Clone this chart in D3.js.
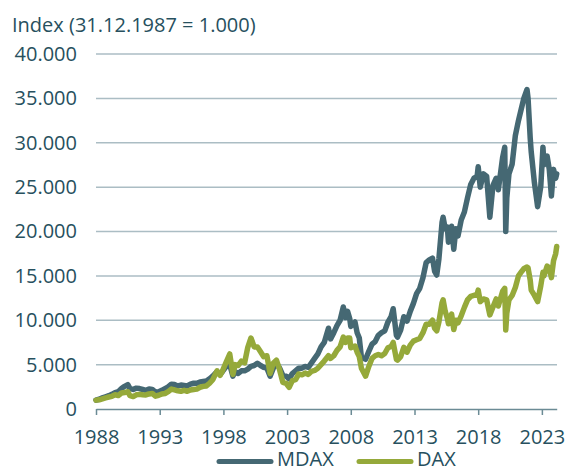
<!DOCTYPE html>
<html>
<head>
<meta charset="utf-8">
<script src="https://cdn.jsdelivr.net/npm/d3@7"></script>
<style>
  body { margin: 0; background: #fff; }
  text { font-family: "Open Sans", sans-serif; }
</style>
</head>
<body>
<div id="chart"></div>
<script>
// data (index, 31.12.1987 = 1.000)
var dates = [
  "1988-01", "1988-04", "1988-07", "1988-10",
  "1989-01", "1989-04", "1989-07", "1989-10",
  "1990-01", "1990-04", "1990-07", "1990-09", "1990-12",
  "1991-03", "1991-06", "1991-09", "1991-12",
  "1992-03", "1992-06", "1992-09", "1992-12",
  "1993-03", "1993-06", "1993-09", "1993-12",
  "1994-03", "1994-06", "1994-09", "1994-12",
  "1995-03", "1995-06", "1995-09", "1995-12",
  "1996-03", "1996-06", "1996-09", "1996-12",
  "1997-03", "1997-07", "1997-10", "1997-12",
  "1998-03", "1998-07", "1998-10", "1998-12",
  "1999-03", "1999-06", "1999-09", "1999-12",
  "2000-03", "2000-06", "2000-09", "2000-12",
  "2001-03", "2001-06", "2001-09", "2001-12",
  "2002-03", "2002-06", "2002-09", "2002-12",
  "2003-03", "2003-06", "2003-09", "2003-12",
  "2004-03", "2004-06", "2004-09", "2004-12",
  "2005-03", "2005-06", "2005-09", "2005-12",
  "2006-04", "2006-06", "2006-09", "2006-12",
  "2007-03", "2007-06", "2007-08", "2007-10", "2007-12",
  "2008-01", "2008-05", "2008-07", "2008-09", "2008-11",
  "2009-03", "2009-06", "2009-09", "2009-12",
  "2010-03", "2010-06", "2010-09", "2010-12",
  "2011-03", "2011-05", "2011-08", "2011-09", "2011-12",
  "2012-03", "2012-06", "2012-09", "2012-12",
  "2013-03", "2013-06", "2013-09", "2013-12",
  "2014-03", "2014-06", "2014-08", "2014-10", "2014-12",
  "2015-03", "2015-04", "2015-06", "2015-08", "2015-09", "2015-12",
  "2016-02", "2016-04", "2016-06", "2016-09", "2016-12",
  "2017-03", "2017-06", "2017-09", "2017-12",
  "2018-01", "2018-03", "2018-06", "2018-09", "2018-12",
  "2019-03", "2019-06", "2019-08", "2019-12",
  "2020-02", "2020-03", "2020-04", "2020-06", "2020-09", "2020-12",
  "2021-03", "2021-06", "2021-08", "2021-11", "2021-12",
  "2022-02", "2022-03", "2022-06", "2022-09", "2022-12",
  "2023-02", "2023-03", "2023-06", "2023-08", "2023-10", "2023-12",
  "2024-02", "2024-03"
];

var mdax = [
  1000, 1100, 1250, 1380,
  1500, 1650, 1850, 1950,
  2300, 2550, 2750, 2300, 2200,
  2350, 2300, 2200, 2100,
  2250, 2200, 1900, 1950,
  2100, 2300, 2500, 2800,
  2750, 2600, 2700, 2650,
  2600, 2800, 2900, 2900,
  3050, 3100, 3150, 3400,
  3700, 4200, 3900, 4200,
  4700, 5000, 3700, 4200,
  4000, 4300, 4300, 4500,
  4800, 4900, 5150, 4900,
  4700, 4600, 3700, 4600,
  5200, 4600, 3800, 3700,
  3400, 4000, 4300, 4600,
  4600, 4800, 4700, 5200,
  5700, 6200, 7000, 7500,
  9100, 7900, 8600, 9400,
  10000, 11500, 10300, 11000, 10200,
  9300, 9800, 8600, 8000, 5800,
  5600, 6500, 7300, 7600,
  8300, 8600, 8800, 9800,
  10400, 11300, 8300, 8100, 8900,
  10400, 9900, 11000, 11900,
  13000, 13600, 14800, 16500,
  16800, 17000, 15500, 15100, 16900,
  21000, 21600, 20300, 20500, 18800, 20600,
  18000, 20300, 19500, 21300, 22200,
  23800, 25300, 26000, 26200,
  27300, 25000, 26500, 26200, 21600,
  25200, 26000, 24700, 28300,
  29500, 20000, 23800, 26500, 27600, 30800,
  32500, 34000, 35000, 36000, 35000,
  30500, 29000, 25500, 22800, 25100,
  29500, 27500, 28500, 27000, 24000, 27000,
  26000, 26500
];

var dax = [
  1000, 1040, 1150, 1260,
  1350, 1430, 1600, 1520,
  1800, 1850, 1950, 1500, 1400,
  1600, 1650, 1600, 1580,
  1700, 1750, 1450, 1550,
  1700, 1750, 1950, 2250,
  2150, 2050, 2000, 2100,
  2000, 2150, 2200, 2250,
  2450, 2550, 2600, 2900,
  3300, 4300, 3800, 4250,
  5100, 6200, 3900, 5000,
  4900, 5400, 5200, 6950,
  8000, 7000, 7000, 6450,
  5900, 6000, 4000, 5150,
  5500, 4400, 3000, 2900,
  2450, 3200, 3300, 3950,
  3850, 4050, 3900, 4250,
  4350, 4600, 5000, 5400,
  6000, 5700, 6000, 6600,
  7000, 8100, 7500, 8000, 8000,
  6900, 7100, 6400, 5900, 4600,
  3700, 4800, 5700, 6000,
  6150, 6000, 6250, 6900,
  7050, 7500, 5600, 5500, 5900,
  6950, 6400, 7200, 7650,
  7800, 7950, 8600, 9550,
  9550, 10000, 9100, 8800, 9800,
  11950, 12300, 11000, 10200, 9600, 10700,
  8950, 10000, 9700, 10500, 11450,
  12300, 12700, 12800, 12900,
  13400, 12100, 12400, 12300, 10600,
  11500, 12400, 11600, 13250,
  13600, 8900, 10800, 12300, 12800, 13700,
  15000, 15500, 15800, 16000, 15900,
  14500, 13400, 12800, 12100, 13900,
  15400, 15000, 16100, 15900, 14800, 16700,
  17500, 18300
];

var yTicks = [0, 5000, 10000, 15000, 20000, 25000, 30000, 35000, 40000];
var xTickYears = [1988, 1993, 1998, 2003, 2008, 2013, 2018, 2023];
var seriesNames = ["MDAX", "DAX"];
var seriesColors = ["#456873", "#95a93a"];

// set up SVG
var svgWidth = 568;
var svgHeight = 468;
var textColor = "#27505e";

var svg = d3.select("#chart")
    .append("svg")
    .attr("width", svgWidth)
    .attr("height", svgHeight);

var parseDate = d3.timeParse("%Y-%m");
var de = d3.formatLocale({ decimal: ",", thousands: ".", grouping: [3], currency: ["", " €"] });
var fmt = de.format(",");

var x = d3.scaleTime()
    .domain([new Date(1988, 0, 1), new Date(2024, 2, 1)])
    .range([96, 556.7]);

var y = d3.scaleLinear()
    .domain([0, 40000])
    .range([409, 54]);

// title
svg.append("text")
    .attr("x", 12)
    .attr("y", 32)
    .attr("fill", textColor)
    .attr("font-size", 20)
    .text("Index (31.12.1987 = 1.000)");

// gridlines
svg.append("g")
    .selectAll("line")
    .data(yTicks.slice(1))
    .enter()
    .append("line")
    .attr("x1", 96)
    .attr("x2", 557)
    .attr("y1", d => y(d))
    .attr("y2", d => y(d))
    .attr("stroke", "#abbdc4")
    .attr("stroke-width", 1.5);

// y axis labels
var yAxis = svg.append("g")
    .attr("transform", "translate(96,0)")
    .call(d3.axisLeft(y).tickValues(yTicks).tickFormat(fmt).tickSize(0).tickPadding(19));
yAxis.select(".domain").remove();
yAxis.selectAll("text")
    .attr("fill", textColor)
    .attr("font-size", 20)
    .attr("font-family", "Open Sans, sans-serif");

// x axis
var xAxis = svg.append("g")
    .attr("transform", "translate(0,409)")
    .call(d3.axisBottom(x)
        .tickValues(xTickYears.map(d => new Date(d, 0, 1)))
        .tickFormat(d3.timeFormat("%Y"))
        .tickSize(6)
        .tickSizeOuter(0)
        .tickPadding(15));
xAxis.select(".domain").attr("stroke", "#6b8b95").attr("stroke-width", 1.5);
xAxis.selectAll(".tick line").attr("stroke", "#6b8b95").attr("stroke-width", 1.5);
xAxis.selectAll("text")
    .attr("fill", textColor)
    .attr("font-size", 20)
    .attr("font-family", "Open Sans, sans-serif");

// lines
var rows = dates.map((d, i) => ({ date: parseDate(d), values: [mdax[i], dax[i]] }));

var line = k => d3.line()
    .x(d => x(d.date))
    .y(d => y(d.values[k]));

seriesNames.forEach(function (name, k) {
    svg.append("path")
        .datum(rows)
        .attr("fill", "none")
        .attr("stroke", seriesColors[k])
        .attr("stroke-width", 5.5)
        .attr("stroke-linejoin", "round")
        .attr("stroke-linecap", "round")
        .attr("d", line(k));
});

// legend
var legendX = [217, 357];
var legend = svg.append("g");
seriesNames.forEach(function (name, k) {
    legend.append("line")
        .attr("x1", legendX[k] + 2)
        .attr("x2", legendX[k] + 54)
        .attr("y1", 461.5)
        .attr("y2", 461.5)
        .attr("stroke", seriesColors[k])
        .attr("stroke-width", 5)
        .attr("stroke-linecap", "round");
    legend.append("text")
        .attr("x", legendX[k] + 60)
        .attr("y", 466)
        .attr("fill", textColor)
        .attr("font-size", 20)
        .text(name);
});
</script>
</body>
</html>
